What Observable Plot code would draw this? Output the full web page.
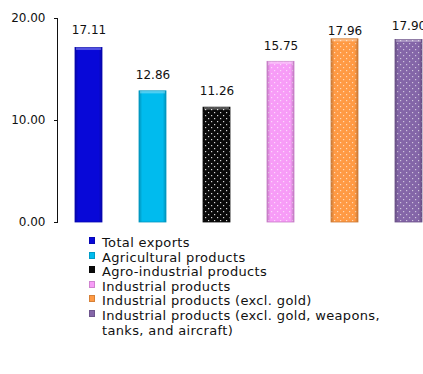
<!DOCTYPE html>
<html>
<head>
<meta charset="utf-8">
<script src="https://cdn.jsdelivr.net/npm/d3@7"></script>
<script src="https://cdn.jsdelivr.net/npm/@observablehq/plot@0.6"></script>
<style>
  html, body { margin: 0; padding: 0; background: #fff; overflow: hidden; width: 423px; height: 374px; }
  .legend { font-family: "DejaVu Sans", sans-serif; font-size: 13px; letter-spacing: 0.35px; color: #111; margin-top: 4px; padding-left: 89px; width: 300px; }
  .legend .row { position: relative; padding-left: 13px; line-height: 14.6px; }
  .legend .sw { position: absolute; left: 0; top: 1px; width: 6px; height: 7px; box-sizing: border-box; }
</style>
</head>
<body>
<div id="chart"></div>
<div class="legend" id="legend"></div>
<script>
const categories = [
  "Total exports",
  "Agricultural products",
  "Agro-industrial products",
  "Industrial products",
  "Industrial products (excl. gold)",
  "Industrial products (excl. gold, weapons, tanks, and aircraft)"
];
const values = [17.11, 12.86, 11.26, 15.75, 17.96, 17.90];
const yTicks = [0, 10, 20];

const baseColors = ["#0808d8", "#00bbee", "#0a0a0a", "#f79cf7", "#ff9a44", "#8466a8"];
const dotted = [false, false, true, true, true, true];
const labelDy = [-18, -16, -16, -16, -8, -14];

const data = categories.map((c, i) => ({category: c, value: values[i], i}));

const chart = Plot.plot({
  width: 423,
  height: 232,
  marginLeft: 57,
  marginRight: 0,
  marginTop: 18,
  marginBottom: 10,
  style: {fontFamily: "DejaVu Sans, sans-serif", fontSize: "12px", color: "#111", overflow: "hidden"},
  x: {domain: categories, range: [57, 440], paddingInner: 0.58, paddingOuter: 0.264, axis: null},
  y: {domain: [0, 20], ticks: yTicks, tickFormat: ".2f", tickSize: 3, tickPadding: 9, label: null, line: true, axis: "left", color: "#999"},
  color: {type: "ordinal", domain: categories, range: categories.map((c, i) => `url(#pat${i})`)},
  marks: [
    Plot.barY(data, {x: "category", y: "value", fill: "category"}),
    Plot.barY(data, {x: "category", y: "value", fill: "url(#bevel)", stroke: d => d3.color(baseColors[d.i]).darker(0.6).formatHex(), strokeWidth: 0.8}),
    Plot.barY(data, {x: "category", y1: d => d.value - 0.25, y2: "value", fill: "white", fillOpacity: 0.3, insetLeft: 1, insetRight: 1}),
    ...data.map(d => Plot.text([d], {x: "category", y: "value", text: e => e.value.toFixed(2), dy: labelDy[d.i], fill: "#111", fontSize: 12}))
  ]
});

const ns = "http://www.w3.org/2000/svg";
const defs = document.createElementNS(ns, "defs");
let defsHtml = "";
baseColors.forEach((col, i) => {
  const op = i === 2 ? 0.85 : 0.6;
  defsHtml += `<pattern id="pat${i}" patternUnits="userSpaceOnUse" width="6" height="6"><rect width="6" height="6" fill="${col}"/>` +
    (dotted[i] ? `<rect x="1" y="1" width="1.2" height="1.2" fill="#fff" fill-opacity="${op}"/><rect x="4" y="4" width="1.2" height="1.2" fill="#fff" fill-opacity="${op}"/>` : "") +
    `</pattern>`;
});
defsHtml += `<linearGradient id="bevel" x1="0" x2="1" y1="0" y2="0" gradientUnits="objectBoundingBox">
  <stop offset="0" stop-color="#000" stop-opacity="0.22"/>
  <stop offset="0.12" stop-color="#000" stop-opacity="0"/>
  <stop offset="0.88" stop-color="#000" stop-opacity="0"/>
  <stop offset="1" stop-color="#000" stop-opacity="0.22"/>
</linearGradient>`;
defs.innerHTML = defsHtml;
chart.insertBefore(defs, chart.firstChild);

// tick labels in dark text, ticks and axis line in grey
chart.querySelectorAll("g[aria-label='y-axis'] text, g[aria-label='y-axis tick label'] text").forEach(t => t.setAttribute("fill", "#111"));

document.getElementById("chart").appendChild(chart);

// legend
const legend = document.getElementById("legend");
categories.forEach((c, i) => {
  const row = document.createElement("div");
  row.className = "row";
  const sw = document.createElement("span");
  sw.className = "sw";
  sw.style.background = baseColors[i];
  sw.style.border = "1px solid " + d3.color(baseColors[i]).darker(0.5).formatHex();
  row.appendChild(sw);
  row.appendChild(document.createTextNode(c));
  legend.appendChild(row);
});
</script>
</body>
</html>
